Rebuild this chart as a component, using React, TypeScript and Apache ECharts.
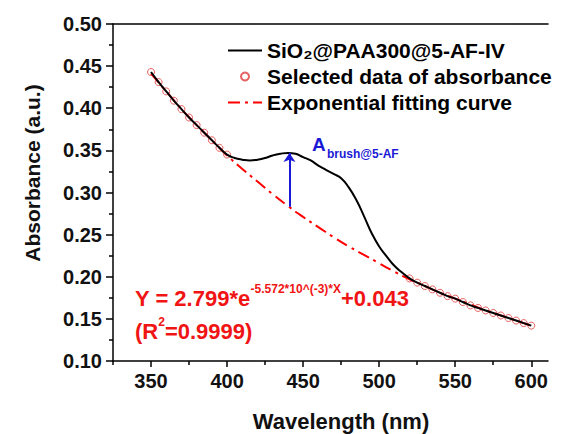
import React, { useEffect, useRef } from 'react';
import * as echarts from 'echarts';

// Measured spectrum (black line)
const wavelengths = [350, 355, 360, 365, 370, 375, 380, 385, 390, 395, 400, 405, 410, 415, 420, 425, 430, 435, 440, 445, 450, 455, 460, 465, 470, 475, 480, 485, 490, 495, 500, 505, 510, 515, 520, 525, 530, 535, 540, 545, 550, 555, 560, 565, 570, 575, 580, 585, 590, 595, 600];
const absorbance = [0.443, 0.431, 0.420, 0.409, 0.399, 0.389, 0.380, 0.371, 0.362, 0.353, 0.345, 0.341, 0.339, 0.338, 0.339, 0.341, 0.344, 0.346, 0.347, 0.346, 0.342, 0.338, 0.332, 0.327, 0.322, 0.317, 0.306, 0.291, 0.272, 0.252, 0.236, 0.224, 0.213, 0.205, 0.198, 0.193, 0.189, 0.185, 0.181, 0.177, 0.174, 0.170, 0.166, 0.163, 0.160, 0.157, 0.154, 0.151, 0.148, 0.145, 0.142];

// Selected data points (red hollow circles)
const selectedWl = [350, 355, 360, 365, 370, 375, 380, 385, 390, 395, 400, 520, 525, 530, 535, 540, 545, 550, 555, 560, 565, 570, 575, 580, 585, 590, 595, 600];
const selectedAbs = [0.443, 0.431, 0.420, 0.409, 0.399, 0.389, 0.380, 0.371, 0.362, 0.353, 0.345, 0.198, 0.193, 0.189, 0.185, 0.181, 0.177, 0.174, 0.170, 0.166, 0.163, 0.160, 0.157, 0.154, 0.151, 0.148, 0.145, 0.142];

// Exponential fitting curve (red dash-dot)
const fitWl = [350, 360, 370, 380, 390, 400, 410, 420, 430, 440, 450, 460, 470, 480, 490, 500, 510, 520, 530, 540, 550, 560, 570, 580, 590, 600];
const fitAbs = [0.441, 0.420, 0.399, 0.380, 0.362, 0.344, 0.328, 0.313, 0.298, 0.284, 0.271, 0.259, 0.247, 0.236, 0.226, 0.216, 0.206, 0.197, 0.189, 0.181, 0.174, 0.167, 0.160, 0.154, 0.148, 0.142];

const xMajorTicks = [350, 400, 450, 500, 550, 600];
const xMinorTicks = [325, 375, 425, 475, 525, 575];

// Arrow marking A_brush
const arrowWl = 441;
const arrowFrom = 0.283;
const arrowTo = 0.347;

const seriesNames = ['SiO\u2082@PAA300@5-AF-IV', 'Selected data of absorbance', 'Exponential fitting curve'];

const FONT = '"Liberation Sans", Arial, sans-serif';
const RED = '#f01414';
const BLUE = '#1a1ad6';

export default function App() {
  const ref = useRef<HTMLDivElement>(null);
  useEffect(() => {
    document.body.style.margin = '0';
    const chart = echarts.init(ref.current!, null, { renderer: 'svg' });
    const line = { color: '#000', width: 1.5 };
    const xBase = { type: 'value', min: 325, max: 611, gridIndex: 0, splitLine: { show: false } };
    chart.setOption({
      animation: false,
      backgroundColor: '#fff',
      textStyle: { fontFamily: FONT },
      grid: { left: 113, top: 24, width: 435, height: 337, containLabel: false },
      legend: {
        orient: 'vertical',
        left: 222,
        top: 35,
        itemGap: 5,
        itemWidth: 34,
        itemHeight: 8,
        selectedMode: false,
        textStyle: { fontSize: 21, fontWeight: 'bold', color: '#000', fontFamily: FONT },
        data: [
          { name: seriesNames[0], itemStyle: { opacity: 0 } },
          { name: seriesNames[1] },
          { name: seriesNames[2], itemStyle: { opacity: 0 } },
        ],
      },
      xAxis: [
        {
          ...xBase,
          position: 'bottom',
          axisLine: { show: true, lineStyle: line },
          axisTick: { show: true, inside: false, length: 6, lineStyle: line, customValues: xMajorTicks },
          axisLabel: { show: true, customValues: xMajorTicks, fontSize: 20, fontWeight: 'bold', color: '#111', margin: 10, fontFamily: FONT },
        },
        {
          ...xBase,
          position: 'bottom',
          axisLine: { show: false },
          axisTick: { show: true, inside: false, length: 4, lineStyle: line, customValues: xMinorTicks },
          axisLabel: { show: false },
        },
        {
          ...xBase,
          position: 'top',
          axisLine: { show: true, lineStyle: line },
          axisTick: { show: false },
          axisLabel: { show: false },
        },
      ],
      yAxis: {
        type: 'value',
        min: 0.1,
        max: 0.5,
        interval: 0.05,
        splitLine: { show: false },
        axisLine: { show: true, lineStyle: line },
        axisTick: { show: true, inside: false, length: 7, lineStyle: line },
        minorTick: { show: true, splitNumber: 2, length: 4, lineStyle: line },
        axisLabel: { fontSize: 20, fontWeight: 'bold', color: '#111', margin: 11, fontFamily: FONT, formatter: (v: number) => v.toFixed(2) },
      },
      series: [
        {
          name: seriesNames[2],
          type: 'line',
          xAxisIndex: 0,
          data: fitWl.map((w, i) => [w, fitAbs[i]]),
          symbol: 'none',
          smooth: true,
          lineStyle: { color: '#ff0000', width: 2, type: [12, 5, 3, 5] },
          itemStyle: { color: '#ff0000' },
          z: 2,
          silent: true,
          markLine: {
            silent: true,
            symbol: ['none', 'arrow'],
            symbolSize: 9,
            label: { show: false },
            lineStyle: { color: BLUE, width: 2, type: 'solid' },
            emphasis: { disabled: true },
            data: [[{ coord: [arrowWl, arrowFrom] }, { coord: [arrowWl, arrowTo] }]],
          },
        },
        {
          name: seriesNames[1],
          type: 'scatter',
          xAxisIndex: 0,
          data: selectedWl.map((w, i) => [w, selectedAbs[i]]),
          symbol: 'circle',
          symbolSize: 7,
          itemStyle: { color: 'rgba(255,255,255,0)', borderColor: '#e03a3a', borderWidth: 1 },
          z: 3,
          silent: true,
        },
        {
          name: seriesNames[0],
          type: 'line',
          xAxisIndex: 0,
          data: wavelengths.map((w, i) => [w, absorbance[i]]),
          symbol: 'none',
          smooth: true,
          lineStyle: { color: '#000', width: 2 },
          itemStyle: { color: '#000' },
          z: 4,
          silent: true,
        },
      ],
      graphic: [
        {
          type: 'text',
          left: 135,
          top: 283,
          style: {
            text: '{a|Y = 2.799*e}{s|-5.572*10^(-3)*X}{a|+0.043}',
            rich: {
              a: { fontSize: 22, fontWeight: 'bold', fill: RED, fontFamily: FONT, lineHeight: 26, verticalAlign: 'bottom' },
              s: { fontSize: 12, fontWeight: 'bold', fill: RED, fontFamily: FONT, lineHeight: 14, verticalAlign: 'top' },
            },
          },
        },
        {
          type: 'text',
          left: 135,
          top: 316,
          style: {
            text: '{a|(R}{s|2}{a|=0.9999)}',
            rich: {
              a: { fontSize: 22, fontWeight: 'bold', fill: RED, fontFamily: FONT, lineHeight: 26, verticalAlign: 'bottom' },
              s: { fontSize: 12, fontWeight: 'bold', fill: RED, fontFamily: FONT, lineHeight: 14, verticalAlign: 'top' },
            },
          },
        },
        {
          type: 'text',
          left: 312,
          top: 135,
          style: { text: 'A', fontSize: 19, fontWeight: 'bold', fill: BLUE, fontFamily: FONT },
        },
        {
          type: 'text',
          left: 327,
          top: 148,
          style: { text: 'brush@5-AF', fontSize: 12, fontWeight: 'bold', fill: BLUE, fontFamily: FONT },
        },
        {
          type: 'text',
          x: 32,
          y: 173,
          rotation: Math.PI / 2,
          style: { text: 'Absorbance (a.u.)', fontSize: 21, fontWeight: 'bold', fill: '#111', fontFamily: FONT, align: 'center', verticalAlign: 'middle', textAlign: 'center', textVerticalAlign: 'middle' },
        },
        {
          type: 'text',
          x: 341,
          y: 421,
          style: { text: 'Wavelength (nm)', fontSize: 22, fontWeight: 'bold', fill: '#111', fontFamily: FONT, align: 'center', verticalAlign: 'middle', textAlign: 'center', textVerticalAlign: 'middle' },
        },
      ],
    });
    return () => chart.dispose();
  }, []);
  return <div ref={ref} style={{ position: 'absolute', left: 0, top: 0, width: 566, height: 434 }} />;
}
